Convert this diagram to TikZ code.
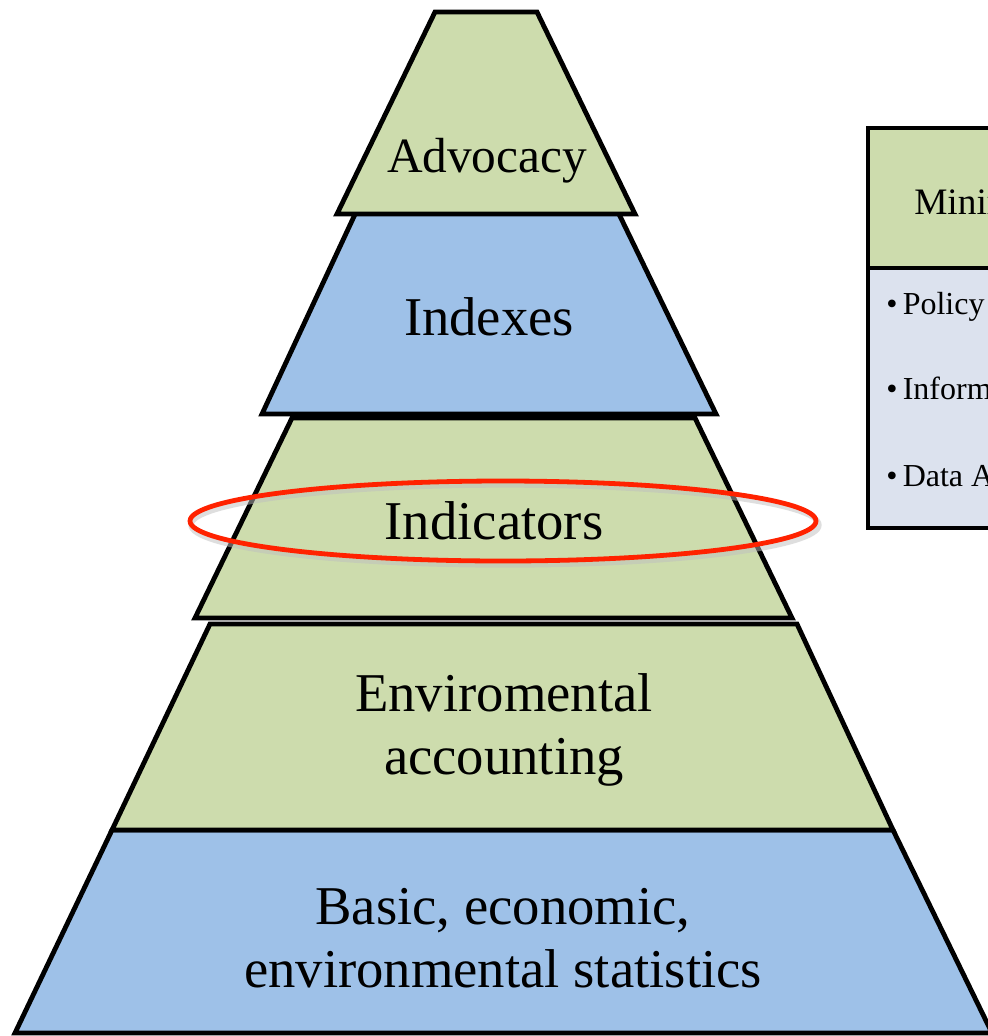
\documentclass[tikz,border=0pt]{standalone}
\usepackage{fontspec}
\setmainfont{Liberation Serif}
\definecolor{pgreen}{RGB}{205,220,173}
\definecolor{pblue}{RGB}{158,193,232}
\definecolor{pbody}{RGB}{220,226,238}
\definecolor{pred}{RGB}{255,34,0}
\tikzset{
  layer/.style={draw=black,line width=3.6pt,line join=miter},
  lbl/.style={inner sep=0pt,align=center,text=black},
  big/.style={lbl,font=\fontsize{41}{47}\selectfont},
  small/.style={inner sep=0pt,anchor=base west,font=\fontsize{24}{28}\selectfont}
}
\begin{document}
\begin{tikzpicture}[x=0.75pt,y=-0.75pt]
\useasboundingbox (0,0) rectangle (988,1036);
\clip (0,0) rectangle (988,1036);
\fill[white] (0,0) rectangle (988,1036);
% layers, bottom to top
\draw[layer,fill=pblue] (112,830) -- (893,830) -- (992,1033) -- (15,1033) -- cycle;
\draw[layer,fill=pgreen] (210,624) -- (797,624) -- (893,830) -- (112,830) -- cycle;
\draw[layer,fill=pgreen] (292,418) -- (695,418) -- (792,618) -- (195,618) -- cycle;
\draw[layer,fill=pblue] (357,210) -- (617,210) -- (716,414) -- (262,414) -- cycle;
\draw[layer,fill=pgreen] (435,12) -- (537,12) -- (635,214) -- (337,214) -- cycle;
% labels
\node[lbl,font=\fontsize{37}{44}\selectfont] (adv) at (487,161) {Advocacy};
\node[big] (idx) at (489,317) {Indexes};
\node[big] (ind) at (494,521) {Indicators};
\node[big] (env) at (504,730) {Enviromental\\accounting};
\node[big] (bas) at (503,938) {Basic, economic,\\environmental statistics};
% highlight ellipse
\draw[black!25,line width=4pt,opacity=0.5] (505,525) ellipse [x radius=314,y radius=40];
\draw[pred,line width=3.6pt] (503,521) ellipse [x radius=313,y radius=40];
% side box
\fill[pgreen] (868,128) rectangle (1010,268);
\fill[pbody] (868,268) rectangle (1010,528);
\draw[black,line width=3.6pt] (868,268) -- (1010,268);
\draw[black,line width=3.6pt] (1010,128) -- (868,128) -- (868,528) -- (1010,528);
\node[inner sep=0pt,anchor=base west,font=\fontsize{28}{32}\selectfont] (hd) at (914,214) {Minimum};
\node[small] (b1) at (886,314) {•\,Policy};
\node[small] (b2) at (886,399) {•\,Information};
\node[small] (b3) at (886,486) {•\,Data Analysis};
\end{tikzpicture}
\end{document}
